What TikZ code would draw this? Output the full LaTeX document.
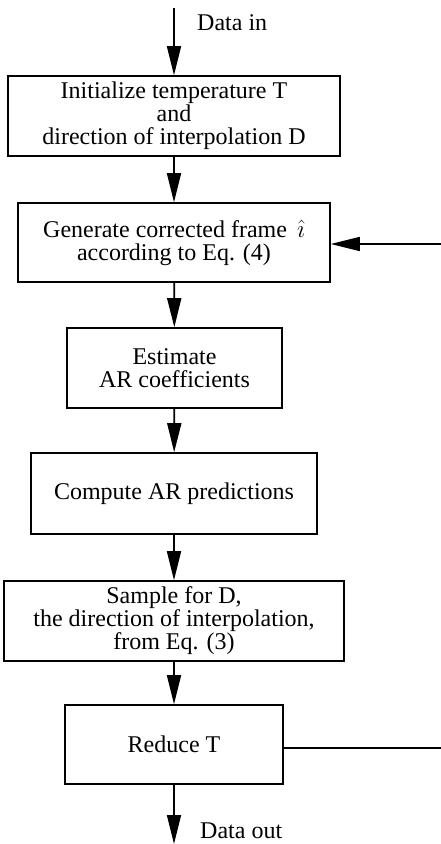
\documentclass[tikz,border=0pt]{standalone}
\usepackage{fontspec}
\setmainfont{Liberation Serif}
\usetikzlibrary{arrows.meta}
\begin{document}
\begin{tikzpicture}[x=1pt,y=-1pt,
  stepbox/.style={draw, line width=1.6pt, align=center, inner sep=0pt,
    font=\fontsize{24}{23}\selectfont},
  flow/.style={line width=1.7pt, -{Triangle[length=29pt,width=14pt]}},
  plain/.style={line width=1.7pt},
  lbl/.style={font=\fontsize{24}{23}\selectfont, inner sep=0pt, anchor=base west}]
\useasboundingbox (0,0) rectangle (441,844);

% process steps, top to bottom
\node[stepbox, minimum width=332pt, minimum height=80pt] (init) at (174,116)
  {Initialize temperature T\\and\\direction of interpolation D};
\node[stepbox, minimum width=312pt, minimum height=79pt] (gen) at (174,242.5)
  {Generate corrected frame \,$\hat{\imath}$\\according to Eq. (4)};
\node[stepbox, minimum width=215pt, minimum height=80pt] (est) at (174.5,368)
  {Estimate\\AR coefficients};
\node[stepbox, minimum width=286pt, minimum height=81pt] (pred) at (174,493.5)
  {Compute AR predictions};
\node[stepbox, minimum width=340pt, minimum height=80pt] (samp) at (174,621)
  {Sample for D,\\the direction of interpolation,\\from Eq. (3)};
\node[stepbox, minimum width=218pt, minimum height=79pt] (red) at (174,744.5)
  {Reduce T};

% free ends of the input, output and loop lines
\coordinate (in) at (174,8);
\coordinate (out) at (174,844);
\coordinate (back) at (441,244);
\coordinate (loop) at (441,748);

\draw[flow] (in) -- (init.north);
\node[lbl] (datain) at (197,30) {Data in};
\draw[flow] (init) -- (gen);
\draw[flow] (back) -- (gen.east |- back);
\draw[flow] (gen) -- (est);
\draw[flow] (est) -- (pred);
\draw[flow] (pred) -- (samp);
\draw[flow] (samp) -- (red);
\draw[plain] (red.east |- loop) -- (loop);
\draw[flow] (red) -- (out);
\node[lbl] (dataout) at (200,838) {Data out};
\end{tikzpicture}
\end{document}
